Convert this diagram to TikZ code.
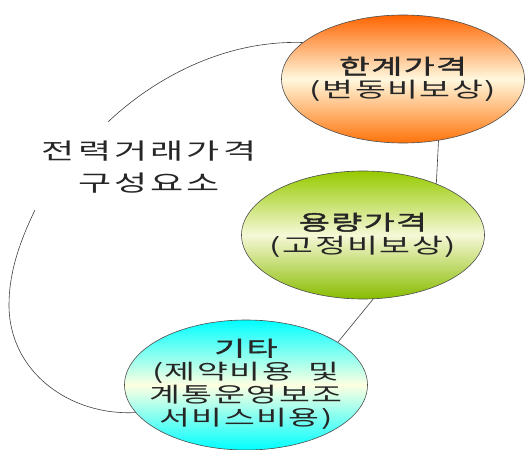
\documentclass[tikz,border=0pt]{standalone}
\usepackage{fontspec}
\usetikzlibrary{shapes.geometric}
\newfontfamily\kr[FakeStretch=1.6,AutoFakeBold=2,LetterSpace=7]{Noto Sans CJK KR}
\newfontfamily\krt[FakeStretch=1.6,LetterSpace=14]{Noto Sans CJK KR}
\definecolor{orT}{RGB}{255,100,0}
\definecolor{orM}{RGB}{255,248,222}
\definecolor{orB}{RGB}{255,115,10}
\definecolor{grT}{RGB}{150,202,0}
\definecolor{grM}{RGB}{246,248,215}
\definecolor{grB}{RGB}{136,188,0}
\definecolor{cyT}{RGB}{0,255,255}
\definecolor{cyM}{RGB}{255,255,226}
\definecolor{cyB}{RGB}{0,255,255}
\begin{document}
\begin{tikzpicture}[x=1pt,y=-1pt,
  blob/.style={ellipse, draw=black!70, line width=0.6pt, minimum width=243pt, minimum height=128pt, inner sep=0pt},
  txt/.style={font=\kr\fontsize{21}{23}\selectfont, text=black!85, align=center, inner sep=0pt},
  ttl/.style={font=\krt\fontsize{22.5}{32}\selectfont, text=black!85, align=center, inner sep=0pt},
  conn/.style={draw=black!75, line width=0.6pt}]
\useasboundingbox (0,0) rectangle (526,449);
\node[blob, top color=orT, bottom color=orB, middle color=orM] (o) at (403,79) {};
\node[blob, top color=grT, bottom color=grB, middle color=grM] (g) at (363,235) {};
\node[blob, minimum height=130pt, top color=cyT, bottom color=cyB, middle color=cyM] (c) at (246,385) {};
\node[txt] (ot) at (o.center) {{\bfseries 한계가격}\\(변동비보상)};
\node[txt] (gt) at (g.center) {{\bfseries 용량가격}\\(고정비보상)};
\node[txt] (ct) at (246,384) {{\bfseries 기타}\\(제약비용\hspace{7pt} 및\\계통운영보조\\서비스비용)};
\node[ttl] (t) at (149,167) {전력거래가격\\구성요소};
\coordinate (a1) at (108,122);
\coordinate (a2) at (35,210);
\draw[conn] (o.-60) -- (g.35);
\draw[conn] (g.-81) -- (c.25);
\draw[conn] (o.160) .. controls (220,40) and (150,82) .. (a1);
\draw[conn] (a2) .. controls (18,245) and (9,275) .. (9,305) .. controls (9,372) and (70,416) .. (c.194);
\end{tikzpicture}
\end{document}
